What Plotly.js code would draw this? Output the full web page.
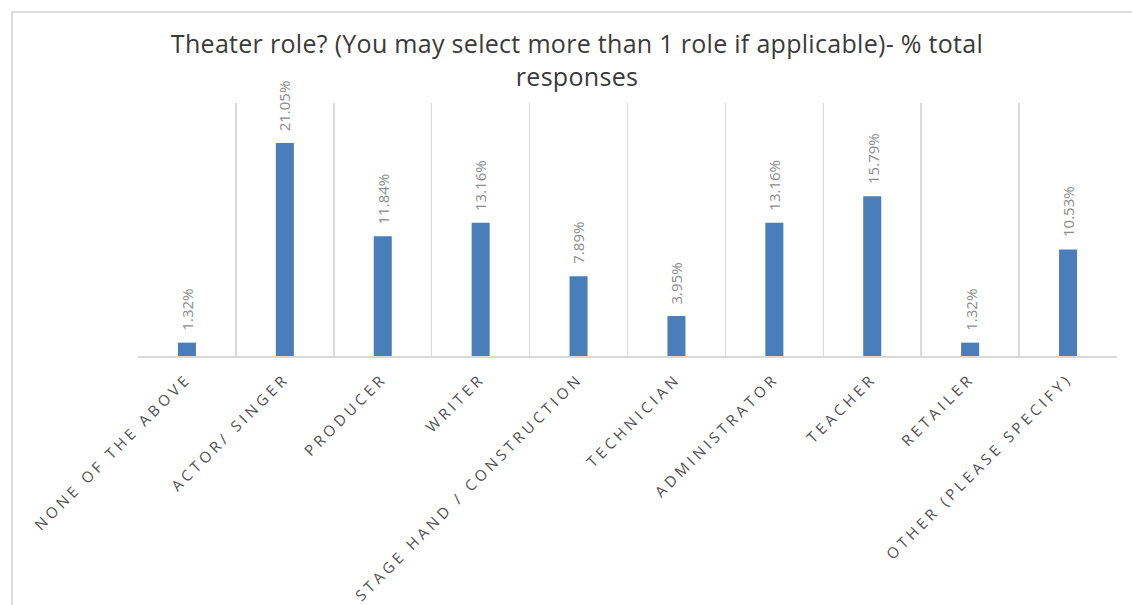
<!DOCTYPE html>
<html>
<head>
<meta charset="utf-8">
<script src="https://cdn.plot.ly/plotly-3.0.1.min.js"></script>
<style>
  html, body { margin: 0; padding: 0; background: #ffffff; overflow: hidden; }
  #frame { position: absolute; left: 11px; top: 11px; width: 1300px; height: 800px;
           border: 2px solid #dcdcdc; box-sizing: border-box; }
  #chart { position: absolute; left: 0; top: 0; width: 1132px; height: 605px; }
  #chart .xtick text { letter-spacing: 3.8px; }
  #chart .gtitle { letter-spacing: 0.3px; }
</style>
</head>
<body>
<div id="frame"></div>
<div id="chart"></div>
<script>
const categories = [
  "NONE OF THE ABOVE",
  "ACTOR/ SINGER",
  "PRODUCER",
  "WRITER",
  "STAGE HAND / CONSTRUCTION",
  "TECHNICIAN",
  "ADMINISTRATOR",
  "TEACHER",
  "RETAILER",
  "OTHER (PLEASE SPECIFY)"
];
const percentValues = [1.32, 21.05, 11.84, 13.16, 7.89, 3.95, 13.16, 15.79, 1.32, 10.53];
const valueLabels = percentValues.map(v => v.toFixed(2) + "%");
const chartTitle = "Theater role? (You may select more than 1 role if applicable)- % total<br>responses";

const trace = {
  type: "bar",
  x: categories,
  y: percentValues,
  marker: { color: "#4a7ebb" },
  hoverinfo: "x+y"
};

const labelAnnotations = categories.map((c, i) => ({
  x: c,
  y: percentValues[i],
  xref: "x",
  yref: "y",
  text: valueLabels[i],
  textangle: -90,
  showarrow: false,
  xanchor: "center",
  yanchor: "bottom",
  yshift: 10,
  font: { family: "Open Sans, sans-serif", size: 15, color: "#8c8c8c" }
}));

const layout = {
  width: 1132,
  height: 605,
  paper_bgcolor: "rgba(0,0,0,0)",
  plot_bgcolor: "rgba(0,0,0,0)",
  margin: { l: 138, r: 15, t: 103, b: 249 },
  title: {
    text: chartTitle,
    x: 577 / 1132,
    xref: "container",
    xanchor: "center",
    y: 1 - 53 / 605,
    yref: "container",
    yanchor: "top",
    font: { family: "Open Sans, sans-serif", size: 25, color: "#3a3a3a" }
  },
  bargap: 0.816,
  showlegend: false,
  xaxis: {
    type: "category",
    tickson: "boundaries",
    showgrid: true,
    gridcolor: "#d9d9d9",
    gridwidth: 1.5,
    showline: true,
    linecolor: "#d9d9d9",
    linewidth: 2,
    ticks: "",
    tickangle: -45,
    ticklabelstandoff: 6,
    tickfont: { family: "Open Sans, sans-serif", size: 15, color: "#505050" },
    automargin: false,
    fixedrange: true
  },
  yaxis: {
    range: [0, 25],
    showgrid: false,
    zeroline: false,
    showline: false,
    showticklabels: false,
    ticks: "",
    fixedrange: true
  },
  annotations: labelAnnotations
};

Plotly.newPlot("chart", [trace], layout, { displayModeBar: false, staticPlot: true });
</script>
</body>
</html>
